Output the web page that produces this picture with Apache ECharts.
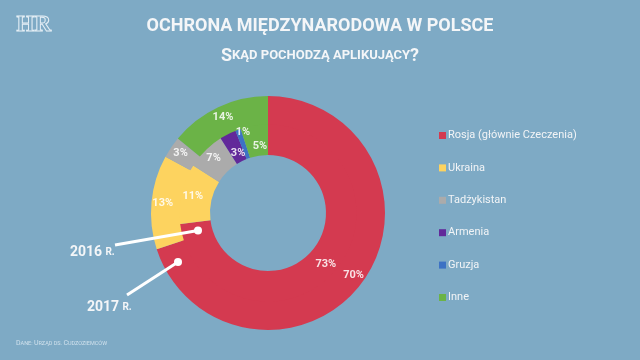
<!DOCTYPE html>
<html><head><meta charset="utf-8">
<script src="https://cdn.jsdelivr.net/npm/echarts@6/dist/echarts.min.js"></script>
<style>html,body{margin:0;padding:0;background:#7eaac5;}#c{width:640px;height:360px;}</style>
</head><body><div id="c"></div>
<script>
var categories = ['Rosja (głównie Czeczenia)', 'Ukraina', 'Tadżykistan', 'Armenia', 'Gruzja', 'Inne'];
var values2016 = [73, 11, 7, 3, 1, 5];
var values2017 = [70, 13, 3, 0, 0, 14];
var colors = ['#d43a50', '#fdd35f', '#ababab', '#62299a', '#3d72c4', '#6bb347'];
var titleText = 'OCHRONA MIĘDZYNARODOWA W POLSCE';
var F = 'Roboto, "DejaVu Sans", sans-serif';

var chart = echarts.init(document.getElementById('c'), null, {renderer: 'canvas'});

function mk(vals) {
  return categories.map(function (n, i) { return {name: n, value: vals[i]}; });
}
var labelCfg = {
  show: true, position: 'inside', color: 'rgba(255,255,255,0.85)',
  fontFamily: F, fontWeight: 'bold', fontSize: 11,
  formatter: function (p) { return p.value ? p.value + '%' : ''; }
};
var innerShift = {3: [5, 9], 4: [1, -8], 5: [4, 9]};

chart.setOption({
  backgroundColor: '#7eaac5',
  color: colors,
  animation: false,
  title: {
    text: titleText,
    subtext: '{a|S}{b|KĄD POCHODZĄ APLIKUJĄCY}{a|?}',
    left: 'center', top: 12, itemGap: 12,
    textStyle: {color: '#f4f6f8', fontFamily: F, fontWeight: 'bold', fontSize: 18},
    subtextStyle: {
      color: '#f4f6f8',
      rich: {
        a: {fontFamily: F, fontWeight: 'bold', fontSize: 18, color: '#f4f6f8'},
        b: {fontFamily: F, fontWeight: 'bold', fontSize: 13, color: '#f4f6f8'}
      }
    }
  },
  legend: {
    orient: 'vertical', left: 434, top: 125,
    data: categories,
    icon: 'rect', itemWidth: 7, itemHeight: 7, itemGap: 21.4,
    textStyle: {color: '#f2f4f6', fontFamily: F, fontSize: 11, padding: [0, 0, 0, -3]}
  },
  series: [
    {
      type: 'pie', name: '2016', center: [268, 213], radius: [58, 90],
      startAngle: 90, clockwise: true, avoidLabelOverlap: false, z: 2,
      label: labelCfg, labelLine: {show: false},
      labelLayout: function (p) {
        var s = innerShift[p.dataIndex];
        return s ? {dx: s[0], dy: s[1]} : {};
      },
      itemStyle: {borderWidth: 0},
      emphasis: {disabled: true},
      data: mk(values2016)
    },
    {
      type: 'pie', name: '2017', center: [268, 213], radius: [88.5, 117],
      startAngle: 90, clockwise: true, avoidLabelOverlap: false, z: 2,
      label: labelCfg, labelLine: {show: false},
      itemStyle: {borderWidth: 0},
      emphasis: {disabled: true},
      data: mk(values2017)
    }
  ],
  graphic: [
    {type: 'text', z: 100, left: 16, top: 13, style: {text: 'HR', font: 'bold 23px "Liberation Serif", serif', fill: 'rgba(0,0,0,0)', stroke: '#e4eef5', lineWidth: 1}},
    {type: 'line', z: 100, shape: {x1: 115, y1: 245, x2: 198, y2: 230.5}, style: {stroke: '#ffffff', lineWidth: 3}},
    {type: 'circle', z: 100, shape: {cx: 198, cy: 230.5, r: 4}, style: {fill: '#ffffff'}},
    {type: 'line', z: 100, shape: {x1: 127, y1: 295, x2: 178, y2: 262}, style: {stroke: '#ffffff', lineWidth: 3}},
    {type: 'circle', z: 100, shape: {cx: 178, cy: 262, r: 4}, style: {fill: '#ffffff'}},
    {type: 'text', z: 100, left: 70, top: 245, style: {
      text: '{n|2016} {r|R.}',
      rich: {n: {fontFamily: F, fontWeight: 'bold', fontSize: 14, fill: '#f4f6f8'},
             r: {fontFamily: F, fontWeight: 'bold', fontSize: 10, fill: '#f4f6f8'}}
    }},
    {type: 'text', z: 100, left: 87, top: 300, style: {
      text: '{n|2017} {r|R.}',
      rich: {n: {fontFamily: F, fontWeight: 'bold', fontSize: 14, fill: '#f4f6f8'},
             r: {fontFamily: F, fontWeight: 'bold', fontSize: 10, fill: '#f4f6f8'}}
    }},
    {type: 'text', z: 100, left: 16, top: 340, style: {
      text: '{a|D}{b|ANE: }{a|U}{b|RZĄD DS. }{a|C}{b|UDZOZIEMCÓW}',
      rich: {a: {fontFamily: F, fontSize: 7, fill: '#cfe0ec'},
             b: {fontFamily: F, fontSize: 5.5, fill: '#cfe0ec'}}
    }}
  ]
});
</script>
</body></html>
